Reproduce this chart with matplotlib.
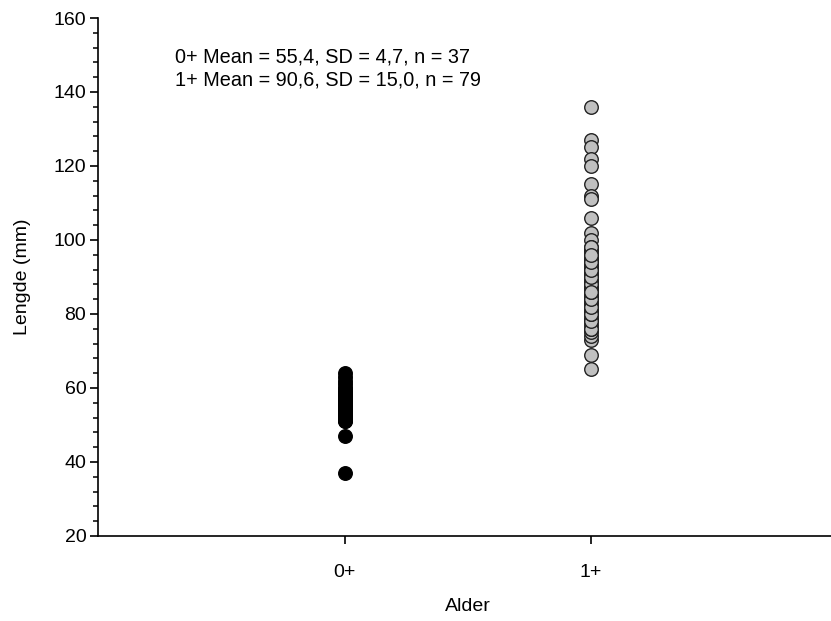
import matplotlib
matplotlib.use('Agg')
import matplotlib.pyplot as plt
from matplotlib.ticker import MultipleLocator

plt.rcParams['font.family'] = ['Liberation Sans', 'DejaVu Sans']

# Data (length in mm per age group)
groups = ['0+', '1+']
lengths_0 = [37, 47,
             51, 52, 53, 54, 55, 56, 57, 58, 59, 60, 61, 62, 63, 64,
             52, 53, 54, 54, 55, 55, 55, 56, 56, 56, 57, 57, 58, 58, 59, 60,
             51, 52, 53, 54, 56]
lengths_1 = [136, 127, 125, 122, 120, 115, 112, 111, 106, 102, 100, 69, 65,
             73, 74, 75, 76, 77, 78, 79, 80, 81, 82, 83, 84, 85, 86, 87, 88,
             89, 90, 91, 92, 93, 94, 95, 96, 97, 98,
             76, 78, 80, 81, 82, 83, 84, 85, 85, 86, 86, 87, 87, 88, 88, 89,
             89, 90, 90, 91, 91, 92, 92, 93, 93, 94, 95, 96, 97, 98,
             80, 82, 84, 86, 88, 90, 92, 94, 96, 86]
stats_text = ['0+ Mean = 55,4, SD = 4,7, n = 37',
              '1+ Mean = 90,6, SD = 15,0, n = 79']

fig = plt.figure(figsize=(8.31, 6.21), dpi=100)
ax = fig.add_axes([0.118, 0.137, 0.890, 0.834])

ax.scatter([0] * len(lengths_0), lengths_0, s=95, color='black',
           edgecolor='black', linewidth=1, zorder=3, clip_on=False)
ax.scatter([1] * len(lengths_1), lengths_1, s=95, color='#c0c0c0',
           edgecolor='#222222', linewidth=1, zorder=3, clip_on=False)

ax.set_xlim(-1, 2)
ax.set_ylim(20, 160)
ax.set_xticks([0, 1])
ax.set_xticklabels(groups)
ax.yaxis.set_major_locator(MultipleLocator(20))
ax.yaxis.set_minor_locator(MultipleLocator(4))

ax.spines['top'].set_visible(False)
ax.spines['right'].set_visible(False)
for s in ['left', 'bottom']:
    ax.spines[s].set_linewidth(1.2)

ax.tick_params(axis='both', which='major', direction='out', length=5.5,
               width=1.2, labelsize=14, pad=3)
ax.tick_params(axis='y', which='minor', direction='out', length=3.5, width=1.1)
ax.tick_params(axis='x', which='major', pad=15)

ax.set_xlabel('Alder', fontsize=14, labelpad=12)
ax.set_ylabel('Lengde (mm)', fontsize=14, labelpad=16)

fig.text(175 / 831, 1 - 57 / 621, stats_text[0], fontsize=14.3, va='center')
fig.text(175 / 831, 1 - 80 / 621, stats_text[1], fontsize=14.3, va='center')

fig.savefig('out.png', dpi=100)
